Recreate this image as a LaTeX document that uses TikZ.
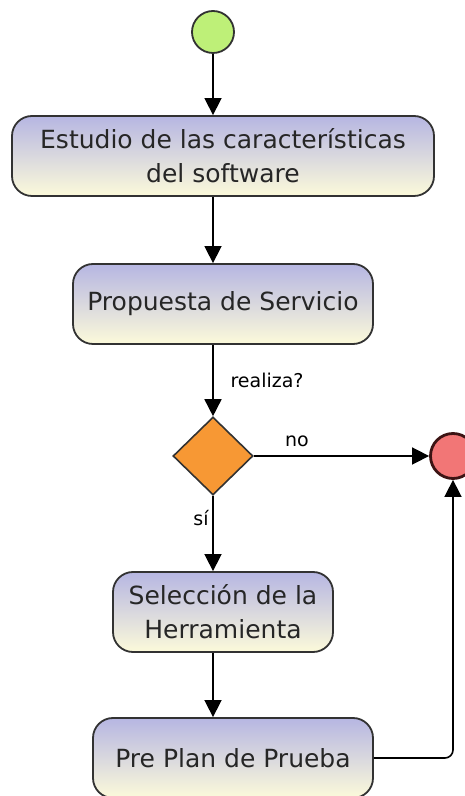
\documentclass[tikz,border=0pt]{standalone}
\usepackage{fontspec}
\setmainfont{DejaVu Sans}
\usepackage{xcolor}
\usetikzlibrary{arrows.meta,positioning,shapes.geometric}
\definecolor{startgreen}{RGB}{190,240,120}
\definecolor{endred}{RGB}{242,118,118}
\definecolor{decorange}{RGB}{247,152,52}
\definecolor{boxtop}{RGB}{182,182,226}
\definecolor{boxbottom}{RGB}{252,250,218}
\definecolor{edgegray}{RGB}{50,50,50}
\definecolor{enddark}{RGB}{60,20,20}

\begin{document}
\begin{tikzpicture}[x=1pt,y=1pt,
    activity/.style={draw=edgegray,line width=1.8pt,rounded corners=20pt,
        top color=boxtop,bottom color=boxbottom,minimum height=80pt,
        inner sep=0pt,align=center,text=black!85,
        font=\fontsize{25}{34}\selectfont},
    flow/.style={-{Triangle[length=17pt,width=17pt]},line width=1.6pt},
    tag/.style={font=\fontsize{19}{22}\selectfont}]
                \useasboundingbox (0,0) rectangle (465,796);

                % Start and end
                \node[circle,draw=edgegray,line width=1.8pt,fill=startgreen,minimum size=42pt] (start) at (213,764) {};
                \node[circle,draw=enddark,line width=2.8pt,fill=endred,minimum size=45pt] (end) at (453,340) {};

                % Activities
                \node[activity,minimum width=422pt] (estudio) at (223,640) {Estudio de las características\\del software};
                \node[activity,minimum width=300pt] (propuesta) at (223,492) {Propuesta de Servicio};
                \node[activity,minimum width=220pt] (seleccion) at (223,184) {Selección de la\\Herramienta};
                \node[activity,minimum width=280pt] (preplan) at (233,38) {Pre Plan de Prueba};

                % Decision
                \node[diamond,draw=edgegray,line width=1.6pt,fill=decorange,minimum width=80pt,minimum height=78pt,inner sep=0pt] (decision) at (213,340) {};

                % Flow
                \draw[flow] (start) -- (start |- estudio.north);
                \draw[flow] (start |- estudio.south) -- (start |- propuesta.north);
                \draw[flow] (start |- propuesta.south) -- (decision.north);
                \draw[flow] (decision.south) -- (start |- seleccion.north);
                \draw[flow] (start |- seleccion.south) -- (start |- preplan.north);
                \draw[flow] (decision.east) -- (end.west);
                \draw[flow,rounded corners=8pt] (preplan.east) -| (end.south);

                % Labels
                \node[tag] (realiza) at (267,416) {realiza?};
                \node[tag] (no) at (297,355) {no};
                \node[tag] (si) at (201,278) {sí};
            \end{tikzpicture}
\end{document}
